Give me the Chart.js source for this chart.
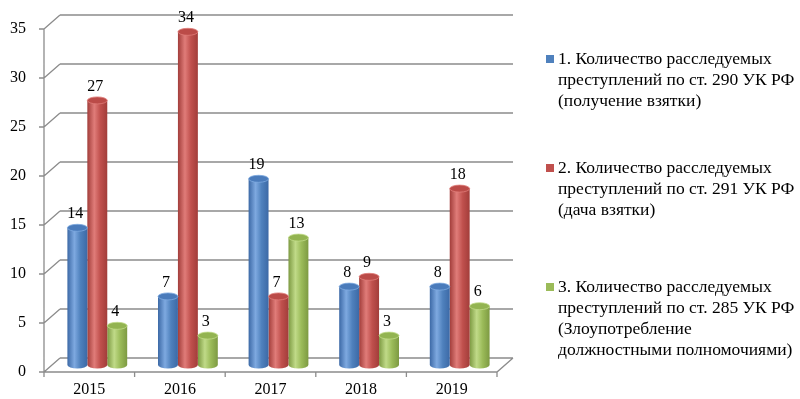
<!DOCTYPE html>
<html>
<head>
<meta charset="utf-8">
<script src="https://cdn.jsdelivr.net/npm/chart.js@4"></script>
<style>
    body { margin: 0; background: #fff; }
    #wrap { position: relative; width: 800px; height: 399px; }
    .item { position: absolute; left: 546px; font-family: "Liberation Serif", "Times New Roman", serif; font-size: 17.5px; line-height: 21px; color: #000; }
    .item .box { position: absolute; left: 0; top: 7px; width: 8px; height: 8px; }
    .item .txt { position: absolute; left: 12px; top: 0; white-space: nowrap; }
</style>
</head>
<body>
<div id="wrap">
    <canvas id="chart" width="800" height="399"></canvas>
</div>
<script>
const years = ['2015', '2016', '2017', '2018', '2019'];
const bribeTaking = [14, 7, 19, 8, 8];
const bribeGiving = [27, 34, 7, 9, 18];
const abuseOfPower = [4, 3, 13, 3, 6];

const legendLines = [
    ['1. Количество расследуемых', 'преступлений по ст. 290 УК РФ', '(получение взятки)'],
    ['2. Количество расследуемых', 'преступлений по ст. 291 УК РФ', '(дача взятки)'],
    ['3. Количество расследуемых', 'преступлений по ст. 285 УК РФ', '(Злоупотребление', 'должностными полномочиями)']
];
const legendTops = [48, 157, 276];

const colors = ['#4F81BD', '#C0504D', '#9BBB59'];
const lights = ['#7ea9e0', '#e07c79', '#c0da88'];
const darks = ['#3c69a6', '#a23d3a', '#7d9a42'];
const tops = ['#4a7bbb', '#bb4b48', '#93b451'];

const FONT = '"Liberation Serif", "Times New Roman", serif';
const dx = 8, dy = 7; // half depth of the 3d box

// legend
const wrap = document.getElementById('wrap');
legendLines.forEach((lines, i) => {
    const d = document.createElement('div');
    d.className = 'item';
    d.style.top = legendTops[i] + 'px';
    d.innerHTML = '<span class="box" style="background:' + colors[i] + '"></span><div class="txt">' + lines.join('<br>') + '</div>';
    wrap.appendChild(d);
});

const depthPlugin = {
    id: 'depth',
    beforeDatasetsDraw(chart) {
        const ctx = chart.ctx;
        const y = chart.scales.y;
        const left = chart.chartArea.left, right = chart.chartArea.right;
        ctx.save();
        ctx.strokeStyle = '#8c8c8c';
        ctx.lineWidth = 1.3;
        ctx.beginPath();
        y.ticks.forEach(t => {
            const p = y.getPixelForValue(t.value);
            ctx.moveTo(left + dx, p - dy); ctx.lineTo(right + dx, p - dy);
            ctx.moveTo(left - dx, p + dy); ctx.lineTo(left + dx, p - dy);
            ctx.moveTo(left - dx - 5, p + dy); ctx.lineTo(left - dx, p + dy);
        });
        const p0 = y.getPixelForValue(0), pMax = y.getPixelForValue(y.max);
        ctx.moveTo(left - dx, pMax + dy); ctx.lineTo(left - dx, p0 + dy);
        ctx.moveTo(left - dx, p0 + dy); ctx.lineTo(right - dx, p0 + dy);
        ctx.lineTo(right + dx, p0 - dy);
        const step = (right - left) / years.length;
        for (let i = 0; i <= years.length; i++) {
            const px = left + i * step - dx;
            ctx.moveTo(px, p0 + dy); ctx.lineTo(px, p0 + dy + 5);
        }
        ctx.stroke();
        ctx.restore();

        // cylinder shading, one gradient per bar (options objects are shared, so copy them)
        chart.data.datasets.forEach((ds, i) => {
            chart.getDatasetMeta(i).data.forEach(el => {
                const g = ctx.createLinearGradient(el.x - el.width / 2, 0, el.x + el.width / 2, 0);
                g.addColorStop(0, darks[i]);
                g.addColorStop(0.35, lights[i]);
                g.addColorStop(0.65, colors[i]);
                g.addColorStop(1, darks[i]);
                el.options = Object.assign({}, el.options, { backgroundColor: g });
                el._grad = g;
            });
        });
    },
    afterDatasetsDraw(chart) {
        const ctx = chart.ctx;
        ctx.save();
        chart.data.datasets.forEach((ds, i) => {
            chart.getDatasetMeta(i).data.forEach((el, j) => {
                const r = el.width / 2;
                ctx.fillStyle = el._grad;
                ctx.beginPath();
                ctx.ellipse(el.x, el.base, r, 3.5, 0, 0, Math.PI);
                ctx.fill();
                ctx.fillStyle = tops[i];
                ctx.strokeStyle = lights[i];
                ctx.lineWidth = 0.8;
                ctx.beginPath();
                ctx.ellipse(el.x, el.y, r, 3.5, 0, 0, Math.PI * 2);
                ctx.fill();
                ctx.stroke();
                ctx.fillStyle = '#000';
                ctx.font = '16px ' + FONT;
                ctx.textAlign = 'center';
                ctx.textBaseline = 'middle';
                ctx.fillText(String(ds.data[j]), el.x - 2, el.y - 14);
            });
        });
        ctx.restore();
    }
};

new Chart(document.getElementById('chart'), {
    type: 'bar',
    data: {
        labels: years,
        datasets: [
            { label: legendLines[0].join(' '), data: bribeTaking, backgroundColor: colors[0] },
            { label: legendLines[1].join(' '), data: bribeGiving, backgroundColor: colors[1] },
            { label: legendLines[2].join(' '), data: abuseOfPower, backgroundColor: colors[2] }
        ]
    },
    options: {
        responsive: false,
        animation: false,
        categoryPercentage: 0.66,
        barPercentage: 1.0,
        layout: { padding: { left: 0, right: 295, top: 22, bottom: 0 } },
        plugins: { legend: { display: false }, tooltip: { enabled: false } },
        scales: {
            x: {
                grid: { display: false },
                border: { display: false },
                afterFit: s => { s.height = 34; },
                ticks: { color: '#000', font: { family: FONT, size: 16 }, padding: 7, labelOffset: -dx }
            },
            y: {
                min: 0,
                max: 35,
                grid: { display: false },
                border: { display: false },
                afterFit: s => { s.width = 52; s.paddingTop = 0; s.paddingBottom = 0; },
                ticks: { stepSize: 5, color: '#000', font: { family: FONT, size: 16 }, padding: 18, labelOffset: dy }
            }
        }
    },
    plugins: [depthPlugin]
});
</script>
</body>
</html>
